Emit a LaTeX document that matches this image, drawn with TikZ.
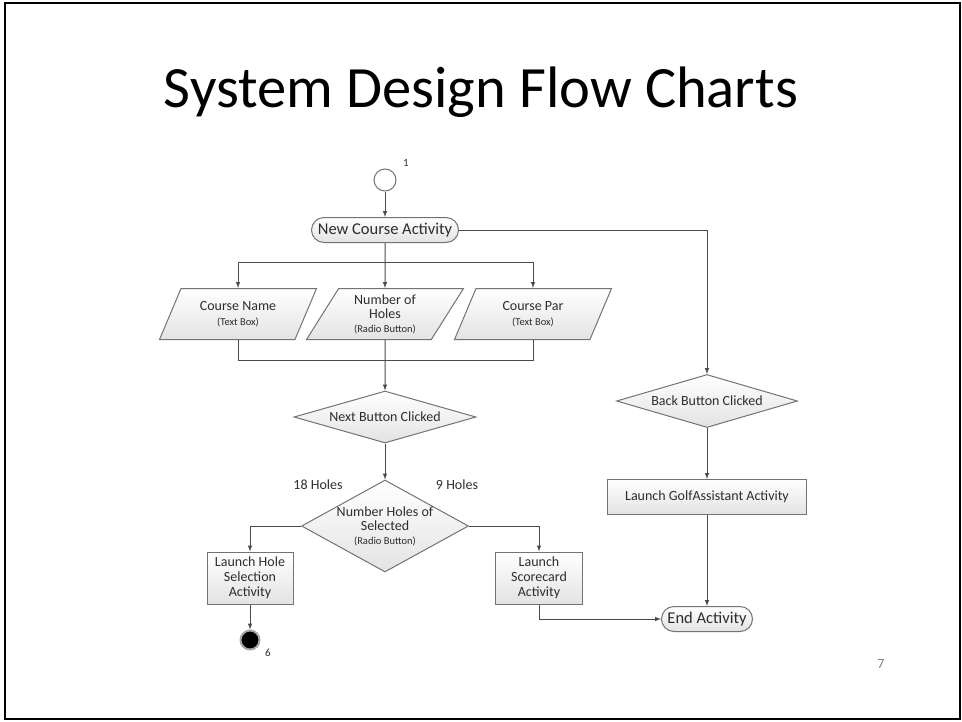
\documentclass[tikz,border=0pt]{standalone}
\usepackage{fontspec}
\setmainfont{Carlito}
\usepackage{xcolor}
\usetikzlibrary{positioning,arrows,shapes.geometric,shapes.misc}

\definecolor{linegray}{RGB}{75,75,75}
\definecolor{boxgray}{RGB}{115,115,115}
\definecolor{txtgray}{RGB}{45,45,45}

\tikzset{
  flow/.style={draw=boxgray, line width=1pt, top color=white, bottom color=gray!22, text=txtgray,
    font=\fontsize{14}{16}\selectfont, align=center, inner sep=1pt},
  terminal/.style={flow, rounded rectangle, minimum height=25pt},
  inputbox/.style={flow, trapezium, trapezium left angle=52, trapezium right angle=128,
    trapezium stretches body, minimum width=157pt, minimum height=51pt},
  decision/.style={flow, diamond, inner sep=0pt},
  process/.style={flow, rectangle},
  conn/.style={draw=linegray, line width=1pt},
  arrow/.style={conn, -latex},
  tag/.style={text=txtgray, font=\fontsize{14}{16}\selectfont}
}

\begin{document}
\begin{tikzpicture}[x=1pt,y=-1pt]
  \useasboundingbox (0,0) rectangle (962,721);
  \draw[line width=2pt] (5,3) rectangle (960,719);
  \node at (481,92) (title) {\fontsize{58.5}{61}\selectfont System Design Flow Charts};
  \node[text=gray, font=\fontsize{14}{16}\selectfont] at (881,664) (page) {7};

  % top of the chart
  \node[draw=boxgray, line width=1pt, fill=white, circle, minimum size=22pt] at (385,180) (start) {};
  \node[tag, font=\fontsize{11}{12}\selectfont] at (406,163) (one) {1};
  \node[terminal, minimum width=149pt, font=\fontsize{16.5}{18}\selectfont] at (385,230) (newc) {New Course Activity};

  \node[inputbox] at (238,314) (cname) {Course Name\\[-1pt]{\fontsize{10.5}{12}\selectfont(Text Box)}};
  \node[inputbox] at (385,314) (holes) {Number of\\[-2pt]Holes\\[-2pt]{\fontsize{10.5}{12}\selectfont(Radio Button)}};
  \node[inputbox] at (533,314) (cpar) {Course Par\\[-1pt]{\fontsize{10.5}{12}\selectfont(Text Box)}};
  \coordinate (split) at (385,262);
  \coordinate (merge) at (385,360);

  \node[decision, shape aspect=3.5, minimum width=182pt, minimum height=52pt] at (385,417) (nextb) {Next Button Clicked};
  \node[decision, minimum width=167pt, minimum height=92pt,
    label={[tag, align=center]center:Number Holes of\\[-2pt]Selected\\[-2pt]{\fontsize{10.5}{12}\selectfont(Radio Button)}}]
    at (385,526) (numsel) {};
  \node[tag] at (318,485) (l18) {18 Holes};
  \node[tag] at (457,485) (l9) {9 Holes};

  \node[process, minimum width=86pt, minimum height=52pt] at (250,578) (holesel) {Launch Hole\\[-1pt]Selection\\[-1pt]Activity};
  \node[process, minimum width=87pt, minimum height=52pt] at (539,578) (score) {Launch\\[-1pt]Scorecard\\[-1pt]Activity};
  \node[circle, fill=black, draw=gray!70, line width=2pt, minimum size=19pt, inner sep=0pt] at (250,640) (stop) {};
  \node[tag, font=\fontsize{11}{12}\selectfont] at (268,653) (six) {6};

  % right column
  \node[decision, shape aspect=3.5, minimum width=181pt, minimum height=53pt] at (707,401) (backb) {Back Button Clicked};
  \node[process, minimum width=199pt, minimum height=35pt] at (707,497) (golf) {Launch GolfAssistant Activity};
  \node[terminal, minimum width=93pt, font=\fontsize{16.5}{18}\selectfont] at (707,619) (endact) {End Activity};

  % connectors
  \draw[arrow] (start) -- (newc);
  \draw[arrow] (newc) -- (holes);
  \draw[arrow] (split) -| (cname.north);
  \draw[arrow] (split) -| (cpar.north);
  \draw[conn] (cname.south) |- (merge);
  \draw[conn] (cpar.south) |- (merge);
  \draw[arrow] (holes) -- (nextb);
  \draw[arrow] (nextb) -- (numsel);
  \draw[arrow] (numsel.west) -| (holesel.north);
  \draw[arrow] (numsel.east) -| (score.north);
  \draw[arrow] (holesel) -- (stop);
  \draw[arrow] (score.south) |- (endact.west);
  \draw[arrow] (newc.east) -| (backb.north);
  \draw[arrow] (backb) -- (golf);
  \draw[arrow] (golf) -- (endact);
\end{tikzpicture}
\end{document}
